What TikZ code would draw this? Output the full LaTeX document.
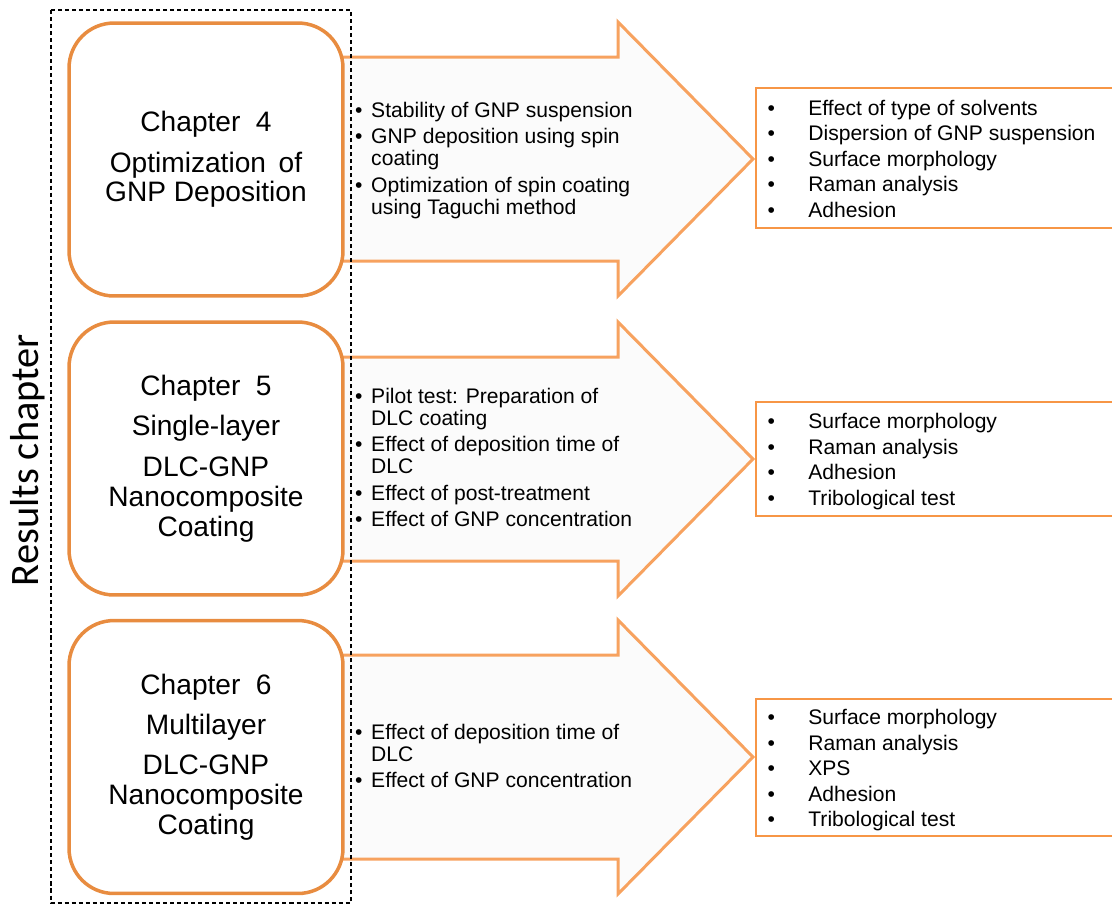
\documentclass[tikz,border=0pt]{standalone}
\usepackage{fontspec}
\setmainfont{Liberation Sans}
\newfontfamily\resultsfont{Carlito}
\usetikzlibrary{positioning}
\definecolor{boxorange}{RGB}{232,140,64}
\definecolor{arroworange}{RGB}{247,162,95}
\definecolor{listorange}{RGB}{247,150,70}
\definecolor{arrowfill}{RGB}{251,251,251}
\tikzset{
  chapbox/.style={draw=boxorange, line width=2pt, fill=white, rounded corners=0.9cm,
    minimum width=5.48cm, minimum height=5.46cm, align=center,
    font=\fontsize{16}{17}\selectfont},
  bigarrow/.style={draw=arroworange, line width=1.7pt, fill=arrowfill},
  midlist/.style={inner sep=0pt, yshift=-0.04cm, font=\fontsize{12}{12.5}\selectfont},
  resbox/.style={draw=listorange, line width=0.9pt, minimum width=7.2cm},
  reslist/.style={inner sep=0pt, yshift=-0.06cm, font=\fontsize{12}{14.5}\selectfont},
}
\begin{document}
\begin{tikzpicture}[x=0.02cm, y=-0.02cm, declare function={s=102; h=137;}]
        \useasboundingbox (0,0) rectangle (1112,904);
        % block arrows
        \draw[bigarrow] (340,159-s) -- (618,159-s) -- (618,159-h) -- (753,159) -- (618,159+h) -- (618,159+s) -- (340,159+s) -- cycle;
        \draw[bigarrow] (340,459-s) -- (618,459-s) -- (618,459-h) -- (753,459) -- (618,459+h) -- (618,459+s) -- (340,459+s) -- cycle;
        \draw[bigarrow] (340,757-s) -- (618,757-s) -- (618,757-h) -- (753,757) -- (618,757+h) -- (618,757+s) -- (340,757+s) -- cycle;
        % chapters
        \node[chapbox] (ch4) at (206,159.5) {Chapter\hspace{0.55em}4\\[6pt]Optimization\hspace{0.45em}of\\GNP Deposition};
        \node[chapbox] (ch5) at (206,458.5) {Chapter\hspace{0.55em}5\\[6pt]Single-layer\\[6pt]DLC-GNP\\Nanocomposite\\Coating};
        \node[chapbox] (ch6) at (206,757) {Chapter\hspace{0.55em}6\\[6pt]Multilayer\\[6pt]DLC-GNP\\Nanocomposite\\Coating};
        \draw[dash pattern=on 2.3pt off 1.7pt, line width=0.6pt] (51,10) rectangle (351,903);
        \node[rotate=90, font=\resultsfont\fontsize{23}{26}\selectfont] (res) at (28,460) {Results chapter};
        % lists inside the arrows
        \node[midlist, right=0.2cm of ch4.east] (m4) {\begin{tabular}{@{}l@{\hspace{5pt}}l@{}}
          \textbullet & Stability of GNP suspension\\[2.5pt]
          \textbullet & GNP deposition using spin\\
                      & coating\\[2.5pt]
          \textbullet & Optimization of spin coating\\
                      & using Taguchi method
          \end{tabular}};
        \node[midlist, right=0.2cm of ch5.east] (m5) {\begin{tabular}{@{}l@{\hspace{5pt}}l@{}}
          \textbullet & Pilot test: Preparation of\\
                      & DLC coating\\[2.5pt]
          \textbullet & Effect of deposition time of\\
                      & DLC\\[2.5pt]
          \textbullet & Effect of post-treatment\\[2.5pt]
          \textbullet & Effect of GNP concentration
          \end{tabular}};
        \node[midlist, right=0.2cm of ch6.east] (m6) {\begin{tabular}{@{}l@{\hspace{5pt}}l@{}}
          \textbullet & Effect of deposition time of\\
                      & DLC\\[2.5pt]
          \textbullet & Effect of GNP concentration
          \end{tabular}};
        % result boxes
        \node[resbox, minimum height=2.8cm] (r4) at (936,158) {};
        \node[resbox, minimum height=2.28cm] (r5) at (936,459) {};
        \node[resbox, minimum height=2.74cm] (r6) at (936,767.5) {};
        \node[reslist, right=0.24cm of r4.west] (t4) {\begin{tabular}{@{}l@{\hspace{19pt}}l@{}}
          \textbullet & Effect of type of solvents\\
          \textbullet & Dispersion of GNP suspension\\
          \textbullet & Surface morphology\\
          \textbullet & Raman analysis\\
          \textbullet & Adhesion
          \end{tabular}};
        \node[reslist, right=0.24cm of r5.west] (t5) {\begin{tabular}{@{}l@{\hspace{19pt}}l@{}}
          \textbullet & Surface morphology\\
          \textbullet & Raman analysis\\
          \textbullet & Adhesion\\
          \textbullet & Tribological test
          \end{tabular}};
        \node[reslist, right=0.24cm of r6.west] (t6) {\begin{tabular}{@{}l@{\hspace{19pt}}l@{}}
          \textbullet & Surface morphology\\
          \textbullet & Raman analysis\\
          \textbullet & XPS\\
          \textbullet & Adhesion\\
          \textbullet & Tribological test
          \end{tabular}};
\end{tikzpicture}
\end{document}
